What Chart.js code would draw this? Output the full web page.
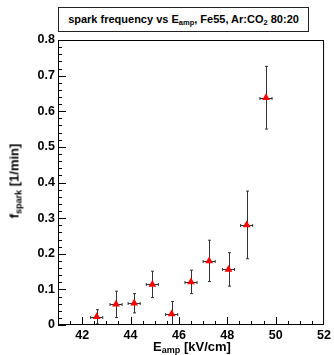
<!DOCTYPE html>
<html lang="en">
<head>
  <meta charset="UTF-8" />
  <title>Spark frequency vs E_amp</title>
  <script src="https://cdn.jsdelivr.net/npm/chart.js"></script>
  <style>
    body {
      margin: 0;
      background: #fff;
      font-family: "Liberation Sans", Arial, Helvetica, sans-serif;
      font-weight: bold;
      color: #000;
    }
    #wrap {
      position: relative;
      width: 334px;
      height: 355px;
    }
    #sparkChart {
      position: absolute;
      left: 0;
      top: 0;
    }
    sub {
      line-height: 0;
      vertical-align: -0.3em;
    }
    .title {
      position: absolute;
      left: 58px;
      top: 7px;
      width: 251px;
      height: 25px;
      box-sizing: border-box;
      border: 1px solid #222;
      background: #fff;
      font-size: 11px;
      line-height: 23px;
      text-align: center;
      white-space: nowrap;
    }
    .title sub { font-size: 7.5px; }
    .ytitle, .xtitle {
      position: absolute;
      font-size: 13px;
      line-height: 15px;
      white-space: nowrap;
    }
    .ytitle sub, .xtitle sub { font-size: 9px; }
    .ytitle {
      left: 14px;
      top: 181px;
      transform: translate(-50%, -50%) rotate(-90deg);
    }
    .xtitle {
      left: 192px;
      top: 346px;
      transform: translate(-50%, -50%);
    }
  </style>
</head>
<body>

<div id="wrap">
  <canvas id="sparkChart" width="334" height="355"></canvas>
  <div class="title">spark frequency vs E<sub>amp</sub>, Fe55, Ar:CO<sub>2</sub> 80:20</div>
  <div class="ytitle">f<sub>spark</sub> [1/min]</div>
  <div class="xtitle">E<sub>amp</sub> [kV/cm]</div>
</div>

<script>
// values
const energies  = [42.6, 43.4, 44.15, 44.9, 45.7, 46.5, 47.25, 48.05, 48.8, 49.6];
const energyErr = [0.25, 0.25, 0.25, 0.25, 0.25, 0.25, 0.25, 0.25, 0.25, 0.25];
const freq      = [0.023, 0.058, 0.061, 0.114, 0.031, 0.121, 0.180, 0.156, 0.281, 0.638];
const freqErr   = [0.020, 0.037, 0.027, 0.037, 0.035, 0.033, 0.058, 0.047, 0.095, 0.088];

const xTicks = [42, 44, 46, 48, 50, 52];
const yTicks = [0, 0.1, 0.2, 0.3, 0.4, 0.5, 0.6, 0.7, 0.8];

const fontFamily = '"Liberation Sans", Arial, Helvetica, sans-serif';

// ROOT-like frame, inward ticks and error bars
const rootStyle = {
  id: 'rootStyle',
  beforeDatasetsDraw(chart) {
    const { ctx, chartArea: a, scales: { x, y } } = chart;
    ctx.save();
    ctx.beginPath();
    ctx.rect(a.left, a.top, a.width, a.height);
    ctx.clip();
    ctx.strokeStyle = '#333';
    ctx.lineWidth = 1;
    energies.forEach((e, i) => {
      const px = Math.round(x.getPixelForValue(e)) + 0.5;
      const py = Math.round(y.getPixelForValue(freq[i])) + 0.5;
      const x0 = x.getPixelForValue(e - energyErr[i]);
      const x1 = x.getPixelForValue(e + energyErr[i]);
      const y0 = y.getPixelForValue(freq[i] - freqErr[i]);
      const y1 = y.getPixelForValue(freq[i] + freqErr[i]);
      ctx.beginPath();
      ctx.moveTo(x0, py); ctx.lineTo(x1, py);
      ctx.moveTo(px, y0); ctx.lineTo(px, y1);
      // small end caps
      ctx.moveTo(x0, py - 1.5); ctx.lineTo(x0, py + 1.5);
      ctx.moveTo(x1, py - 1.5); ctx.lineTo(x1, py + 1.5);
      ctx.moveTo(px - 1.5, y0); ctx.lineTo(px + 1.5, y0);
      ctx.moveTo(px - 1.5, y1); ctx.lineTo(px + 1.5, y1);
      ctx.stroke();
    });
    ctx.restore();
  },
  afterDraw(chart) {
    const { ctx, chartArea: a, scales: { x, y } } = chart;
    ctx.save();
    ctx.strokeStyle = '#000';
    ctx.lineWidth = 1;
    ctx.beginPath();
    // y ticks: major every 0.1, minor every 0.02
    for (let k = 0; k <= 40; k++) {
      const py = Math.round(y.getPixelForValue(k * 0.02)) + 0.5;
      const len = k % 5 === 0 ? 8 : 4;
      ctx.moveTo(a.left, py); ctx.lineTo(a.left + len, py);
    }
    // x ticks: major every 2, minor every 0.5
    for (let k = 1; k < 22; k++) {
      const v = 41 + k * 0.5;
      const px = Math.round(x.getPixelForValue(v)) + 0.5;
      const len = xTicks.includes(v) ? 8 : 4;
      ctx.moveTo(px, a.bottom); ctx.lineTo(px, a.bottom - len);
    }
    ctx.stroke();
    ctx.strokeRect(a.left + 0.5, a.top + 0.5, a.width - 1, a.height - 1);
    ctx.restore();
  }
};

const ctx = document.getElementById('sparkChart').getContext('2d');

new Chart(ctx, {
  type: 'scatter',
  data: {
    datasets: [{
      label: 'spark frequency',
      data: energies.map((e, i) => ({ x: e, y: freq[i] })),
      pointStyle: 'triangle',
      pointRadius: 4.5,
      pointHoverRadius: 4.5,
      pointBackgroundColor: '#ff0000',
      pointBorderColor: '#ff0000',
      pointBorderWidth: 0
    }]
  },
  options: {
    responsive: false,
    animation: false,
    devicePixelRatio: 1,
    layout: {
      padding: { top: 40, right: 8, left: 0, bottom: 0 }
    },
    plugins: {
      legend: { display: false },
      tooltip: { enabled: false }
    },
    scales: {
      x: {
        type: 'linear',
        min: 41,
        max: 52,
        grid: { display: false, drawTicks: false },
        border: { display: false },
        afterBuildTicks: scale => { scale.ticks = xTicks.map(v => ({ value: v })); },
        afterFit: scale => { scale.height = 30; },
        ticks: {
          autoSkip: false,
          maxRotation: 0,
          padding: 3,
          color: '#000',
          font: { family: fontFamily, size: 12.5, weight: 'bold' },
          callback: v => String(v)
        }
      },
      y: {
        type: 'linear',
        min: 0,
        max: 0.8,
        grid: { display: false, drawTicks: false },
        border: { display: false },
        afterBuildTicks: scale => { scale.ticks = yTicks.map(v => ({ value: v })); },
        afterFit: scale => { scale.width = 58; },
        ticks: {
          autoSkip: false,
          padding: 3,
          color: '#000',
          font: { family: fontFamily, size: 12.5, weight: 'bold' },
          callback: v => String(v)
        }
      }
    }
  },
  plugins: [rootStyle]
});
</script>

</body>
</html>
